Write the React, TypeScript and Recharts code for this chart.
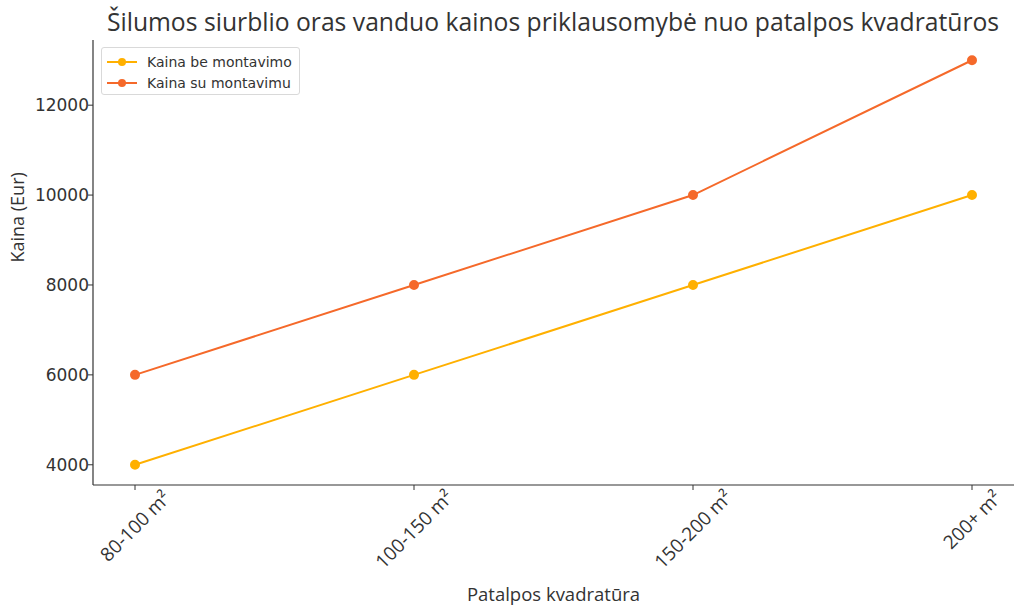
import { LineChart, Line, XAxis, YAxis } from "recharts";

const categories = ["80-100 m²", "100-150 m²", "150-200 m²", "200+ m²"];
const withoutInstall = [4000, 6000, 8000, 10000];
const withInstall = [6000, 8000, 10000, 13000];
const yTicks = [4000, 6000, 8000, 10000, 12000];

const seriesA = "Kaina be montavimo";
const seriesB = "Kaina su montavimu";
const colorA = "#ffb000";
const colorB = "#f5692a";

const data = categories.map((c, i) => ({
  cat: c,
  [seriesA]: withoutInstall[i],
  [seriesB]: withInstall[i],
}));

const XTick = (props: any) => {
  const { x, y, payload } = props;
  const text: string = payload.value;
  const w = text.length * 8.9;
  const cy = y - 1 + ((w + 19) * 0.707) / 2;
  return (
    <text
      x={x}
      y={cy}
      textAnchor="middle"
      dominantBaseline="central"
      transform={`rotate(-45, ${x}, ${cy})`}
      fill="#333"
      fontSize={19}
      fontFamily="Open Sans"
    >
      {text}
    </text>
  );
};

const LegendBox = () => (
  <div
    style={{
      position: "absolute",
      left: 101,
      top: 47,
      width: 199,
      height: 48,
      border: "1px solid #d9d9d9",
      borderRadius: 3,
      background: "rgba(255,255,255,0.8)",
      fontFamily: "DejaVu Sans",
      fontSize: 14,
      color: "#333",
      boxSizing: "border-box",
      padding: "3px 0 0 5px",
    }}
  >
    {[
      [seriesA, colorA],
      [seriesB, colorB],
    ].map(([name, c]) => (
      <div key={name} style={{ display: "flex", alignItems: "center", height: 21 }}>
        <svg width={30} height={10} style={{ marginRight: 10 }}>
          <line x1={0} y1={5} x2={30} y2={5} stroke={c} strokeWidth={2} />
          <circle cx={15} cy={5} r={4} fill={c} />
        </svg>
        <span>{name}</span>
      </div>
    ))}
  </div>
);

export default function App() {
  return (
    <div style={{ position: "fixed", left: 0, top: 0, width: 1024, height: 611, background: "#fff" }}>
      <LineChart width={1024} height={611} data={data} margin={{ top: 40, right: 10, left: 0, bottom: 0 }}>
        <text
          x={553}
          y={31}
          textAnchor="middle"
          fontSize={24.7}
          fontFamily="Open Sans"
          fill="#333"
        >
          Šilumos siurblio oras vanduo kainos priklausomybė nuo patalpos kvadratūros
        </text>
        <XAxis
          dataKey="cat"
          type="category"
          height={126}
          padding={{ left: 42, right: 42 }}
          interval={0}
          tick={<XTick />}
          tickSize={5}
          axisLine={{ stroke: "#333", strokeWidth: 1.2 }}
          tickLine={{ stroke: "#333" }}
          label={{
            value: "Patalpos kvadratūra",
            position: "insideBottom",
            offset: 10,
            fill: "#333",
            fontSize: 18.5,
            fontFamily: "Open Sans",
          }}
        />
        <YAxis
          width={93}
          domain={[3550, 13450]}
          ticks={yTicks}
          tickSize={5}
          tick={{ fill: "#333", fontSize: 17, fontFamily: "DejaVu Sans", dx: 3 }}
          axisLine={{ stroke: "#333", strokeWidth: 1.2 }}
          tickLine={{ stroke: "#333" }}
          label={{
            value: "Kaina (Eur)",
            angle: -90,
            position: "insideLeft",
            offset: 18,
            fill: "#333",
            fontSize: 18,
            fontFamily: "Open Sans",
          }}
        />
        <Line
          dataKey={seriesA}
          stroke={colorA}
          strokeWidth={2}
          dot={{ r: 4, fill: colorA, stroke: colorA }}
          isAnimationActive={false}
        />
        <Line
          dataKey={seriesB}
          stroke={colorB}
          strokeWidth={2}
          dot={{ r: 4, fill: colorB, stroke: colorB }}
          isAnimationActive={false}
        />
      </LineChart>
      <LegendBox />
    </div>
  );
}
